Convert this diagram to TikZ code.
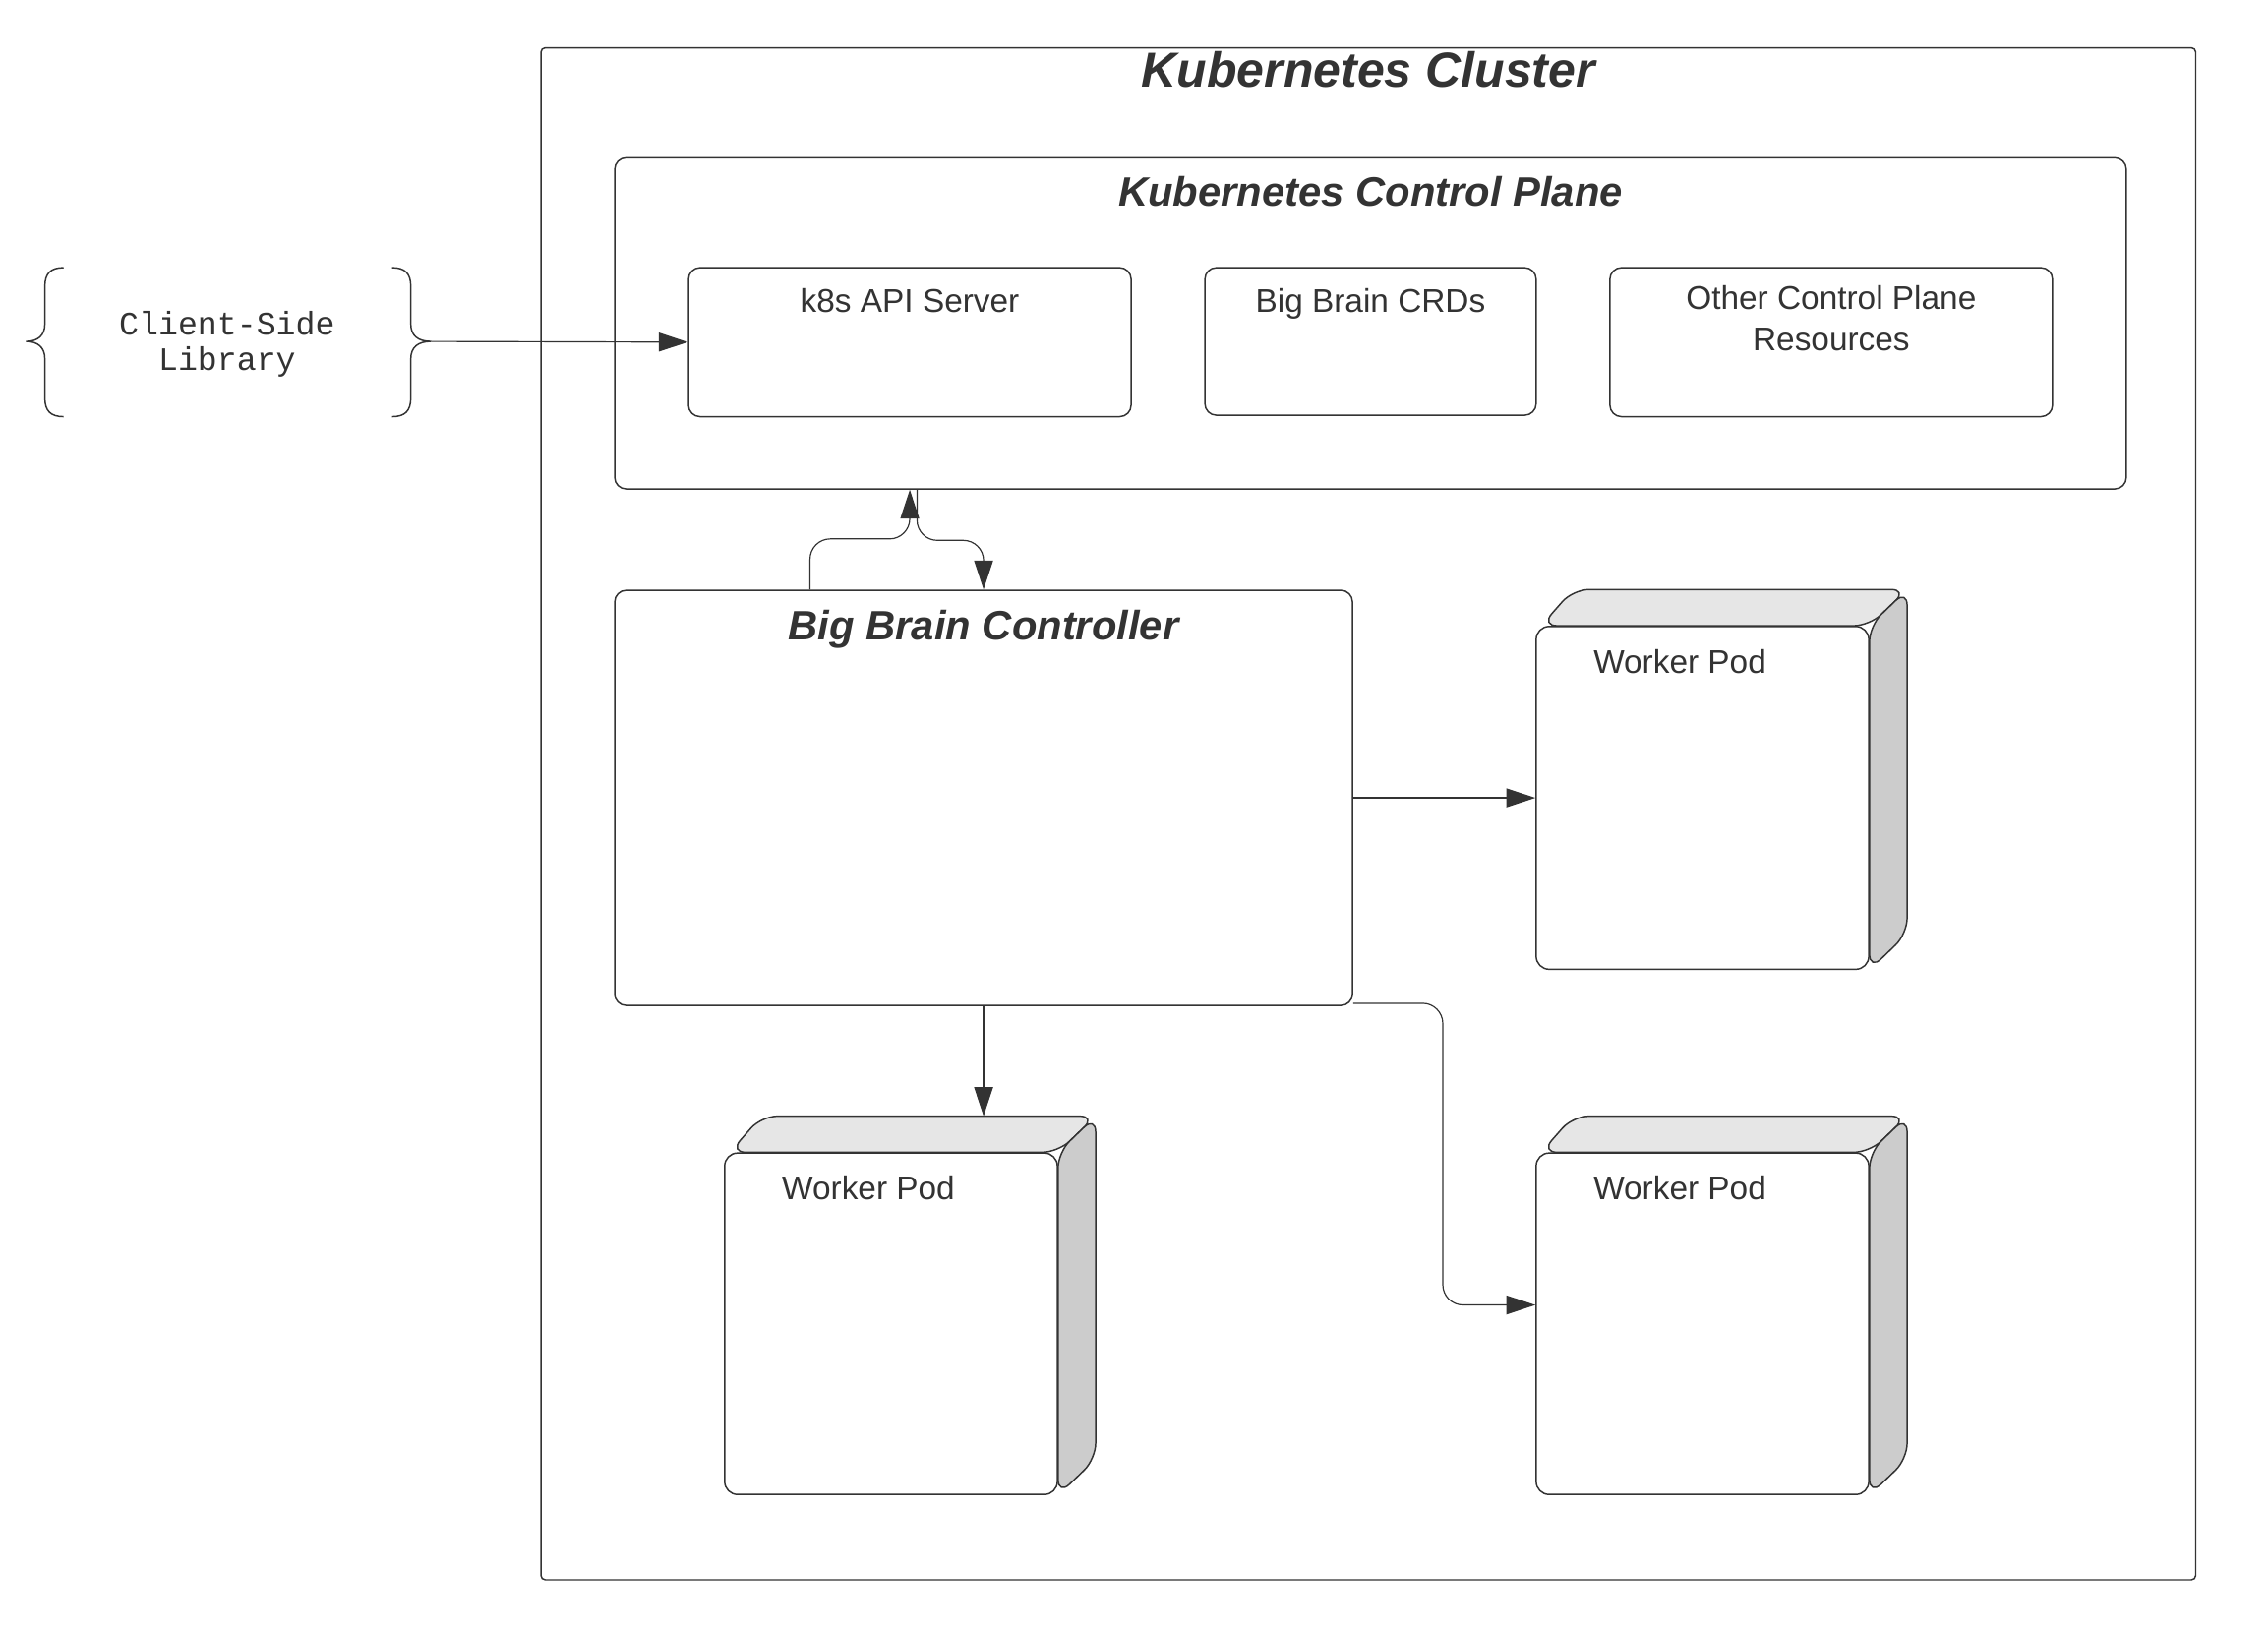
\documentclass[tikz,border=0pt]{standalone}
\usepackage{fontspec}
\setmainfont{Liberation Sans}
\newfontfamily\libfont{Liberation Mono}
\usepackage{xcolor}
\usetikzlibrary{arrows.meta}
\usetikzlibrary{calc}
\usetikzlibrary{backgrounds}

\definecolor{ink}{HTML}{333333}
\definecolor{podtop}{HTML}{E6E6E6}
\definecolor{podside}{HTML}{CCCCCC}

\tikzset{
  box/.style={draw=ink, line width=1pt, rounded corners=8pt, inner sep=0pt},
  boxlabel/.style={anchor=north, inner sep=0pt, text=ink, align=center,
    font=\fontsize{22.7}{28}\selectfont},
  boxtitle/.style={anchor=north, inner sep=0pt, text=ink,
    font=\fontsize{28.4}{32}\selectfont\bfseries\itshape},
  clustertitle/.style={boxtitle, font=\fontsize{34}{38}\selectfont\bfseries\itshape},
  pod/.style={draw=ink, line width=1pt, fill=white, rounded corners=9pt,
    minimum width=230pt, inner sep=0pt},
  podlabel/.style={boxlabel, anchor=north west, xshift=40pt, yshift=-16pt},
  conn/.style={draw=ink, line width=0.8pt, -{Triangle[length=20pt,width=13pt]}},
  brace/.style={draw=ink, line width=1pt}
}

\newcommand{\podfaces}[1]{%
  \draw[fill=podtop, draw=ink, line width=1pt, rounded corners=11pt]
    ($(#1.north west)+(4,0)$) -- (#1.north east) -- ++(26,-25)
    -- ($(#1.north west)+(26,-25)$) -- cycle;
  \draw[fill=podside, draw=ink, line width=1pt, rounded corners=11pt]
    (#1.north east) -- ++(26,-25) -- ($(#1.south east)+(26,-25)$)
    -- (#1.south east) -- cycle;
}

\begin{document}
\begin{tikzpicture}[x=1pt,y=-1pt]
  \useasboundingbox (0,0) rectangle (1568,1128);

  \node[box, rounded corners=3pt, minimum width=1144pt, minimum height=1059pt,
    label={[clustertitle, yshift=-3pt]north:Kubernetes Cluster}] (cluster) at (946,562.5) {};
  \node[box, minimum width=1045pt, minimum height=229pt,
    label={[boxtitle, yshift=-13pt]north:Kubernetes Control Plane}] (cp) at (947.5,223.5) {};

  \node[box, minimum width=306pt, minimum height=103pt,
    label={[boxlabel, yshift=-15pt]north:k8s API Server}] (api) at (629,236.5) {};
  \node[box, minimum width=229pt, minimum height=102pt,
    label={[boxlabel, yshift=-15pt]north:Big Brain CRDs}] (crd) at (947.5,236) {};
  \node[box, minimum width=306pt, minimum height=103pt,
    label={[boxlabel, yshift=-13pt]north:Other Control Plane\\Resources}] (other) at (1266,236.5) {};

  \node[box, minimum width=510pt, minimum height=287pt,
    label={[boxtitle, yshift=-14pt]north:Big Brain Controller}] (ctrl) at (680,551.5) {};

  \node[pod, minimum height=237pt, label={[podlabel]north west:Worker Pod}] (podA) at (1177,551.5) {};
  \node[pod, minimum height=236pt, label={[podlabel]north west:Worker Pod}] (podB) at (616,915) {};
  \node[pod, minimum height=236pt, label={[podlabel]north west:Worker Pod}] (podC) at (1177,915) {};
  \coordinate (podBback) at ($(podB.north west)+(26,-25)$);

  \begin{scope}[on background layer]
    \podfaces{podA}
    \podfaces{podB}
    \podfaces{podC}
  \end{scope}

  \node[text=ink, align=center, inner sep=0pt,
    font=\libfont\fontsize{22.6}{24}\selectfont] (lib) at (157,238) {Client-Side\\Library};
  \begin{scope}[shift={(lib.center)}]
    \draw[brace] (-113,-53) .. controls (-122,-53) and (-126,-49) .. (-126,-40)
      -- (-126,-14) .. controls (-126,-6) and (-131,-2) .. (-139,-2)
      .. controls (-131,-2) and (-126,2) .. (-126,10)
      -- (-126,37) .. controls (-126,46) and (-122,50) .. (-113,50);
    \draw[brace] (114,-53) .. controls (123,-53) and (127,-49) .. (127,-40)
      -- (127,-14) .. controls (127,-6) and (132,-2) .. (141,-2)
      .. controls (132,-2) and (127,2) .. (127,10)
      -- (127,37) .. controls (127,46) and (123,50) .. (114,50);
    \coordinate (libtip) at (141,-2);
  \end{scope}

  \draw[conn] (libtip) -- (api.west);
  \draw[conn, rounded corners=14pt] ($(ctrl.north)+(-120,0)$) -- ++(0,-35) -| (api.south |- cp.south);
  \draw[conn, rounded corners=14pt] ($(api.south |- cp.south)+(5,0)$) -- ++(0,35) -| (ctrl.north);
  \draw[conn] (ctrl.east) -- (podA.west);
  \draw[conn] (ctrl.south) -- (ctrl.south |- podBback);
  \draw[conn, rounded corners=14pt] ($(ctrl.south east)+(0,-2)$) -- ++(62,0) |- ($(podC.west)+(0,-13)$);
\end{tikzpicture}
\end{document}
